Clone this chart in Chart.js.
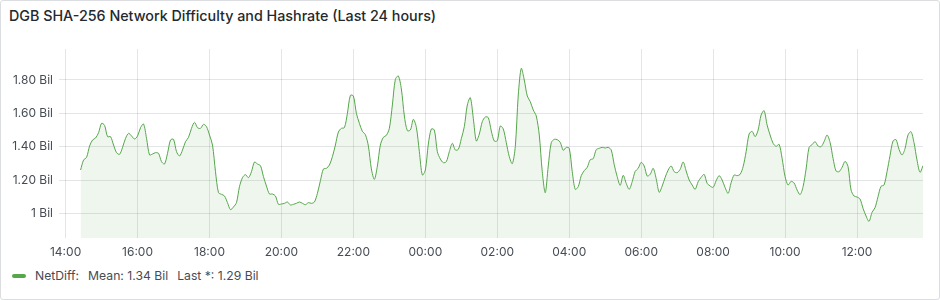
<!DOCTYPE html>
<html>
<head>
<meta charset="utf-8">
<script src="https://cdn.jsdelivr.net/npm/chart.js@4.4.0/dist/chart.umd.min.js"></script>
<style>
    body { margin: 0; background: #fff; font-family: Inter, "Noto Sans", sans-serif; }
    .panel { position: relative; width: 940px; height: 300px; box-sizing: border-box; border: 1px solid #dcdde0; border-radius: 3px; }
    .title { position: absolute; left: 8px; top: 6px; font-size: 14.3px; font-weight: 500; color: #24292e; }
    .chart-box { position: absolute; left: -1px; top: -1px; }
    .legend { position: absolute; left: 11px; top: 267px; font-size: 12.2px; color: #464c54; display: flex; align-items: center; }
    .legend .swatch { width: 14px; height: 4px; border-radius: 2px; background: #56a64b; margin-right: 9px; }
    .legend span { margin-right: 9px; }
</style>
</head>
<body>
<div class="panel">
    <div class="title">DGB SHA-256 Network Difficulty and Hashrate (Last 24 hours)</div>
    <div class="chart-box"><canvas id="diffChart" width="940" height="262"></canvas></div>
    <div class="legend">
        <div class="swatch"></div>
        <span>NetDiff:</span>
        <span>Mean: 1.34 Bil</span>
        <span>Last *: 1.29 Bil</span>
    </div>
</div>
<script>
// Time axis in minutes after 14:00; one sample every 5 minutes
var startMinute = 25;
var stepMinutes = 5;

// Network difficulty, billions
var netDiff = [
    1.26, 1.32, 1.336, 1.404, 1.44, 1.452, 1.484, 1.54, 1.528, 1.46,
    1.46, 1.41, 1.364, 1.354, 1.396, 1.45, 1.48, 1.464, 1.446, 1.464,
    1.514, 1.536, 1.45, 1.35, 1.356, 1.364, 1.36, 1.31, 1.296, 1.36,
    1.44, 1.444, 1.37, 1.344, 1.38, 1.43, 1.456, 1.51, 1.546, 1.514,
    1.51, 1.534, 1.52, 1.47, 1.41, 1.25, 1.124,
    1.114, 1.104, 1.064, 1.022, 1.038, 1.064, 1.16, 1.214, 1.232, 1.214,
    1.25, 1.308, 1.296, 1.286, 1.22, 1.164, 1.116, 1.116, 1.104, 1.054,
    1.056, 1.06, 1.068, 1.05, 1.054, 1.06, 1.068, 1.06, 1.052, 1.064,
    1.06, 1.068, 1.12, 1.196, 1.266, 1.27, 1.29, 1.34, 1.41, 1.488,
    1.51, 1.514, 1.60, 1.708, 1.704, 1.60, 1.54,
    1.492, 1.472, 1.404, 1.266, 1.204, 1.284, 1.41, 1.456, 1.468, 1.51,
    1.65, 1.804, 1.824, 1.746, 1.584, 1.496, 1.50, 1.564, 1.516, 1.37,
    1.23, 1.26, 1.416, 1.506, 1.50, 1.37, 1.326, 1.304, 1.31, 1.37,
    1.42, 1.38, 1.384, 1.448, 1.52, 1.65, 1.694, 1.57, 1.434, 1.476,
    1.55, 1.578, 1.574, 1.494, 1.434, 1.436,
    1.524, 1.506, 1.424, 1.34, 1.298, 1.40, 1.71, 1.87, 1.80, 1.704,
    1.67, 1.62, 1.584, 1.47, 1.25, 1.124, 1.284, 1.424, 1.444, 1.442,
    1.426, 1.378, 1.396, 1.39, 1.25, 1.144, 1.16, 1.226, 1.256, 1.276,
    1.322, 1.328, 1.382, 1.39, 1.396, 1.392, 1.396, 1.38, 1.292, 1.22,
    1.168, 1.228, 1.18, 1.144, 1.19, 1.252, 1.27,
    1.306, 1.284, 1.224, 1.234, 1.27, 1.208, 1.126, 1.164, 1.216, 1.26,
    1.284, 1.25, 1.244, 1.264, 1.308, 1.254, 1.20, 1.17, 1.144, 1.19,
    1.216, 1.234, 1.18, 1.164, 1.156, 1.196, 1.226, 1.20, 1.154, 1.12,
    1.184, 1.23, 1.226, 1.234, 1.28, 1.37, 1.476, 1.492, 1.46, 1.50,
    1.59, 1.616, 1.53, 1.47, 1.42, 1.402, 1.414,
    1.33, 1.22, 1.17, 1.192, 1.182, 1.14, 1.112, 1.16, 1.266, 1.396,
    1.412, 1.43, 1.404, 1.40, 1.43, 1.47, 1.426, 1.33, 1.254, 1.25,
    1.276, 1.312, 1.28, 1.14, 1.104, 1.098, 1.086, 1.03, 0.984, 0.952,
    1.006, 1.034, 1.10, 1.162, 1.17, 1.25, 1.346, 1.434, 1.442, 1.384,
    1.35, 1.388, 1.47, 1.49, 1.424, 1.32, 1.246, 1.286
];

// Axis ticks
var xTickMinutes = [0, 120, 240, 360, 480, 600, 720, 840, 960, 1080, 1200, 1320];
var xTickLabels = ['14:00', '16:00', '18:00', '20:00', '22:00', '00:00', '02:00', '04:00', '06:00', '08:00', '10:00', '12:00'];
var yTickValues = [1, 1.2, 1.4, 1.6, 1.8];
var yTickLabels = ['1 Bil', '1.20 Bil', '1.40 Bil', '1.60 Bil', '1.80 Bil'];

// Build {x, y} points
var points = netDiff.map(function (v, i) {
    return { x: startMinute + i * stepMinutes, y: v };
});

var gridColor = 'rgba(36, 41, 46, 0.12)';
var labelColor = '#464c54';

var ctx = document.getElementById('diffChart').getContext('2d');
var myChart = new Chart(ctx, {
    type: 'line',
    data: {
        datasets: [{
            label: 'NetDiff',
            data: points,
            borderColor: '#56a64b',
            backgroundColor: 'rgba(86, 166, 75, 0.1)',
            borderWidth: 1,
            pointRadius: 0,
            tension: 0.3,
            fill: 'start'
        }]
    },
    options: {
        responsive: false,
        animation: false,
        layout: { padding: { top: 49, right: 17, left: 0, bottom: 0 } },
        plugins: {
            legend: { display: false },
            tooltip: { enabled: false }
        },
        scales: {
            x: {
                type: 'linear',
                min: -11,
                max: 1430,
                afterFit: function (s) { s.height = 24; },
                afterBuildTicks: function (s) {
                    s.ticks = xTickMinutes.map(function (m) { return { value: m }; });
                },
                ticks: {
                    autoSkip: false,
                    maxRotation: 0,
                    padding: 7,
                    color: labelColor,
                    font: { family: 'Inter', size: 12 },
                    callback: function (value) {
                        return xTickLabels[xTickMinutes.indexOf(value)];
                    }
                },
                grid: { color: gridColor, drawTicks: false },
                border: { display: false }
            },
            y: {
                min: 0.852,
                max: 1.986,
                afterFit: function (s) { s.width = 59; },
                afterBuildTicks: function (s) {
                    s.ticks = yTickValues.map(function (v) { return { value: v }; });
                },
                ticks: {
                    padding: 6,
                    color: labelColor,
                    font: { family: 'Inter', size: 12 },
                    callback: function (value) {
                        return yTickLabels[yTickValues.indexOf(value)];
                    }
                },
                grid: { color: gridColor, drawTicks: false },
                border: { display: false }
            }
        }
    }
});
</script>
</body>
</html>
